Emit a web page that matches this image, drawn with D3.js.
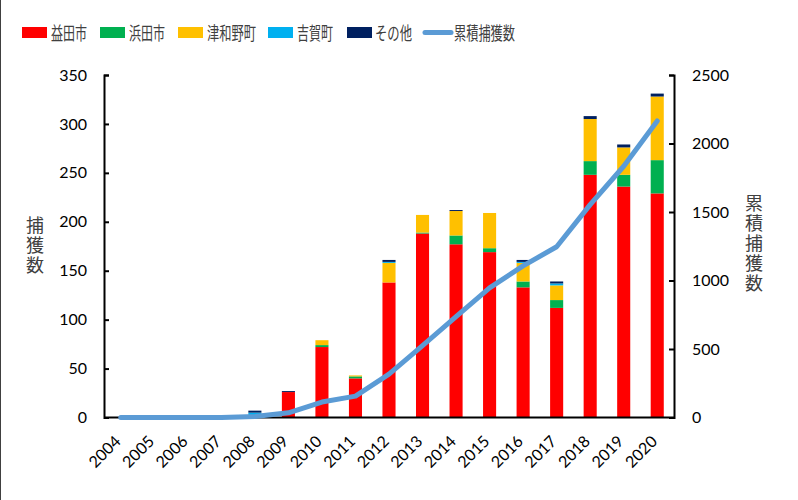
<!DOCTYPE html>
<html><head><meta charset="utf-8">
<script src="https://cdn.jsdelivr.net/npm/d3@7"></script>
<style>
body{margin:0;background:#fff;}
svg{display:block;}
</style></head>
<body>
<svg id="chart" width="798" height="500"></svg>
<script>
const years = ["2004","2005","2006","2007","2008","2009","2010","2011","2012","2013","2014","2015","2016","2017","2018","2019","2020"];
const seriesNames = ["益田市","浜田市","津和野町","吉賀町","その他"];
const masuda    = [0,0,0,0,0,26,72,40,138,188,177,169,133,112,248,236,229];
const hamada    = [0,0,0,0,0,0,2,2,0,1,9,4,6,8,14,12,34];
const tsuwano   = [0,0,0,0,0,0,5,1,20,18,25,36,19,15,43,28,65];
const yoshika   = [0,0,0,0,5,0,0,0,1,0,0,0,1,2,0,0,0];
const sonota    = [0,0,0,0,2,1,0,0,2,0,1,0,2,2,3,3,3];
const cumulative = [0,0,0,0,7,34,113,156,317,524,737,946,1107,1246,1554,1834,2165];
const leftTicks = [0,50,100,150,200,250,300,350];
const rightTicks = [0,500,1000,1500,2000,2500];
const colors = ["#FF0000","#00B050","#FFC000","#00B0F0","#002060"];
const lineColor = "#5B9BD5";

const svg = d3.select("#chart");
const L = 104, R = 674, T = 75, B = 417.5;
const numFont = "Lato, 'Noto Sans', sans-serif";
const cjkFont = "'Noto Sans CJK JP', sans-serif";

// left border
svg.append("line").attr("x1",0.5).attr("x2",0.5).attr("y1",0).attr("y2",500).attr("stroke","#404040").attr("stroke-width",1);

const x = d3.scaleBand().domain(years).range([L,R]).paddingInner(0.61).paddingOuter(0.305);
const y = d3.scaleLinear().domain([0,350]).range([B,T]);
const y2 = d3.scaleLinear().domain([0,2500]).range([B,T]);

const table = years.map((yr,i)=>({year:yr,"益田市":masuda[i],"浜田市":hamada[i],"津和野町":tsuwano[i],"吉賀町":yoshika[i],"その他":sonota[i]}));
const stack = d3.stack().keys(seriesNames)(table);

svg.append("g").selectAll("g").data(stack).join("g")
  .attr("fill",(d,i)=>colors[i])
  .selectAll("rect").data(d=>d).join("rect")
  .attr("x",d=>x(d.data.year))
  .attr("width",x.bandwidth())
  .attr("y",d=>y(d[1]))
  .attr("height",d=>y(d[0])-y(d[1]));

// axes
const gl = svg.append("g").attr("transform",`translate(${L},0)`)
  .call(d3.axisLeft(y).tickValues(leftTicks).tickSize(-5).tickPadding(17));
const gr = svg.append("g").attr("transform",`translate(${R},0)`)
  .call(d3.axisRight(y2).tickValues(rightTicks).tickFormat(d3.format("d")).tickSize(-5).tickPadding(18));
const gb = svg.append("g").attr("transform",`translate(0,${B})`)
  .call(d3.axisBottom(x).tickSize(0));
[gl,gr,gb].forEach(g=>{
  g.select(".domain").attr("stroke","#000").attr("stroke-width",2);
  g.selectAll(".tick line").attr("stroke","#000").attr("stroke-width",2);
  g.selectAll("text").attr("font-family",numFont).attr("font-size",16).attr("fill","#000");
});
gb.select(".domain").attr("d",`M${L},0H${R}`);
gb.selectAll("text")
  .attr("text-anchor","end")
  .attr("y",0).attr("dy","0.35em")
  .attr("transform","translate(-3,21) rotate(-45)")
  .attr("font-size",16);

// cumulative line
const line = d3.line().x((d,i)=>x(years[i])+x.bandwidth()/2).y(d=>y2(d));
svg.append("path").datum(cumulative)
  .attr("d",line).attr("fill","none").attr("stroke",lineColor)
  .attr("stroke-width",5).attr("stroke-linejoin","round").attr("stroke-linecap","round");

// axis titles (vertical)
function vtitle(txt, cx, top){
  svg.append("text").attr("x",cx).attr("y",top)
    .attr("font-family",cjkFont).attr("font-size",18).attr("fill","#404040")
    .attr("writing-mode","vertical-rl").style("text-orientation","upright")
    .style("letter-spacing","2px")
    .text(txt);
}
vtitle("捕獲数",35,216);
vtitle("累積捕獲数",754,194);

// legend
const legendItems = [
  {name:"益田市",sx:22,tx:51,w:36,type:"rect",c:colors[0]},
  {name:"浜田市",sx:100,tx:129,w:36,type:"rect",c:colors[1]},
  {name:"津和野町",sx:178,tx:207,w:49,type:"rect",c:colors[2]},
  {name:"吉賀町",sx:268,tx:297,w:36,type:"rect",c:colors[3]},
  {name:"その他",sx:347,tx:375,w:37,type:"rect",c:colors[4]},
  {name:"累積捕獲数",sx:425,tx:454,w:61,type:"line",c:lineColor}
];
const lg = svg.append("g");
legendItems.forEach(it=>{
  if(it.type==="rect"){
    lg.append("rect").attr("x",it.sx).attr("y",27).attr("width",25).attr("height",11).attr("fill",it.c);
  } else {
    lg.append("line").attr("x1",it.sx).attr("x2",it.sx+26).attr("y1",32.5).attr("y2",32.5)
      .attr("stroke",it.c).attr("stroke-width",5).attr("stroke-linecap","round");
  }
  lg.append("text").attr("x",it.tx).attr("y",39.5).attr("font-family",cjkFont).attr("font-size",18)
    .attr("textLength",it.w).attr("lengthAdjust","spacingAndGlyphs")
    .attr("fill","#404040").text(it.name);
});
</script>
</body></html>
